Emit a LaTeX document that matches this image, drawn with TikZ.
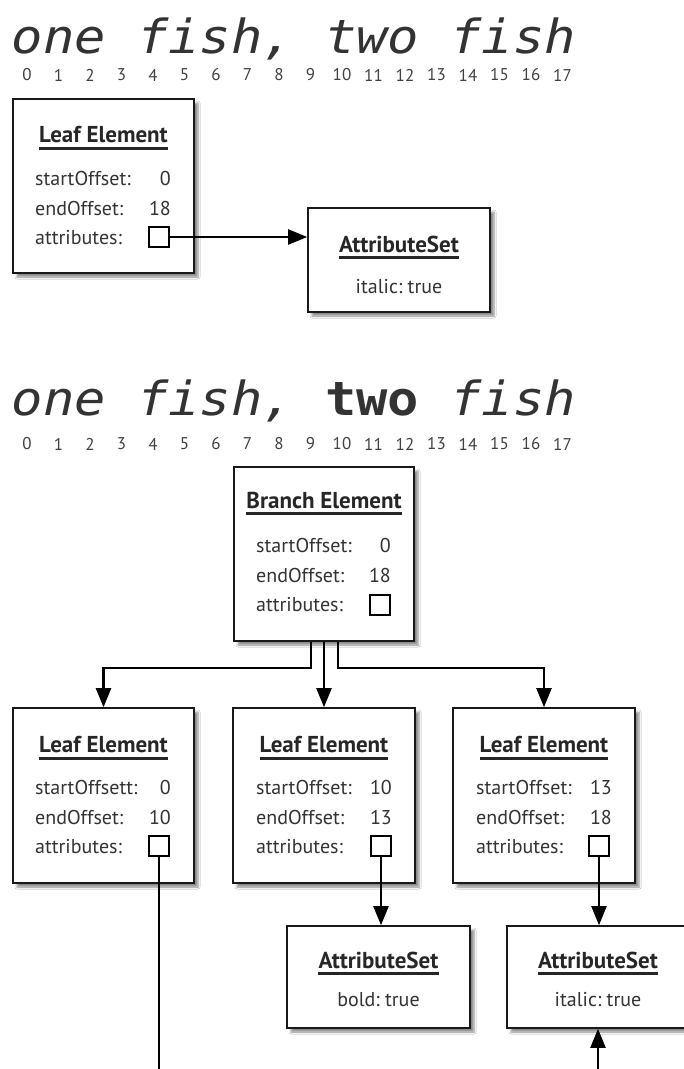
\documentclass[tikz,border=0pt]{standalone}
\usepackage{fontspec}
\setmainfont{PT Sans}
\newfontfamily\fishfont{DejaVu Sans Mono}
\usetikzlibrary{arrows.meta,shadows.blur}

\begin{document}
\frenchspacing
\begin{tikzpicture}[
  x=1pt,y=-1pt,
  box/.style={draw=black!90,line width=1.6pt,fill=white,inner sep=0,
    blur shadow={shadow xshift=4pt,shadow yshift=-4pt,shadow blur steps=6,shadow opacity=45}},
  hd/.style={inner xsep=0,inner ysep=5pt,text=black!85,font=\fontsize{23}{25}\selectfont\bfseries},
  ul/.style={line width=2.6pt,black!85},
  lb/.style={anchor=west,inner sep=0,text=black!80,font=\fontsize{20}{22}\selectfont},
  vl/.style={anchor=east,inner sep=0,text=black!80,font=\fontsize{20}{22}\selectfont},
  tx/.style={inner sep=0,text=black!80,font=\fontsize{20}{22}\selectfont},
  sq/.style={draw,fill=white,line width=2.2pt,minimum size=20pt,inner sep=0},
  dg/.style={inner sep=0,text=black!75,font=\fontsize{17}{17}\selectfont},
  fish/.style={anchor=base west,inner sep=0,text=black!80,font=\fishfont\fontsize{47}{47}\selectfont},
  ln/.style={line width=2.2pt},
  a/.style={ln,-{Triangle[length=19pt,width=15pt]}}
]
\useasboundingbox (0,0) rectangle (684,1069);
\fill[white] (0,0) rectangle (684,1069);

\node[fish] (f1) at (11.5,53) {\scalebox{1.108}[1]{\itshape one fish, two fish}};
\foreach \i in {0,...,17} \node[dg] (d\i) at (27+31.5*\i,75) {\i};

\node[box,minimum width=181,minimum height=174] (lt) at (103.5,186) {};
\node[hd] (lth) at (103.5,135) {Leaf Element};
\draw[ul] (lth.south west) -- (lth.south east);
\node[lb] (lts) at (35,178) {startOffset:};
\node[vl] (ltsv) at (171,178) {0};
\node[lb] (lte) at (35,208) {endOffset:};
\node[vl] (ltev) at (171,208) {18};
\node[lb] (lta) at (35,238) {attributes:};
\node[sq] (ltq) at (159,237) {};

\node[box,minimum width=182,minimum height=104] (at) at (399,260) {};
\node[hd] (ath) at (399,244) {AttributeSet};
\draw[ul] (ath.south west) -- (ath.south east);
\node[tx] (atv) at (399,287) {italic: true};

\draw[a] (ltq.east) -- (ltq.east -| at.west);

\node[fish] (f2) at (11.5,415) {\scalebox{1.108}[1]{{\itshape one fish,\ }{\bfseries two}{\itshape\ fish}}};
\foreach \i in {0,...,17} \node[dg] (e\i) at (27+31.5*\i,444) {\i};

\node[box,minimum width=180,minimum height=174] (br) at (324,554) {};
\node[hd] (brh) at (324,500) {Branch Element};
\draw[ul] (brh.south west) -- (brh.south east);
\node[lb] (brs) at (256,545) {startOffset:};
\node[vl] (brsv) at (391,545) {0};
\node[lb] (bre) at (256,575) {endOffset:};
\node[vl] (brev) at (391,575) {18};
\node[lb] (bra) at (256,605) {attributes:};
\node[sq] (brq) at (380,605) {};

\node[box,minimum width=181,minimum height=175] (l1) at (103.5,795.5) {};
\node[hd] (l1h) at (103.5,745) {Leaf Element};
\draw[ul] (l1h.south west) -- (l1h.south east);
\node[lb] (l1s) at (35,787) {startOffsett:};
\node[vl] (l1sv) at (171,787) {0};
\node[lb] (l1e) at (35,817) {endOffset:};
\node[vl] (l1ev) at (171,817) {10};
\node[lb] (l1a) at (35,847) {attributes:};
\node[sq] (l1q) at (159,846) {};

\node[box,minimum width=182,minimum height=175] (l2) at (324,795.5) {};
\node[hd] (l2h) at (324,745) {Leaf Element};
\draw[ul] (l2h.south west) -- (l2h.south east);
\node[lb] (l2s) at (256,787) {startOffset:};
\node[vl] (l2sv) at (392,787) {10};
\node[lb] (l2e) at (256,817) {endOffset:};
\node[vl] (l2ev) at (392,817) {13};
\node[lb] (l2a) at (256,847) {attributes:};
\node[sq] (l2q) at (381,846) {};

\node[box,minimum width=182,minimum height=175] (l3) at (544,795.5) {};
\node[hd] (l3h) at (544,745) {Leaf Element};
\draw[ul] (l3h.south west) -- (l3h.south east);
\node[lb] (l3s) at (476,787) {startOffset:};
\node[vl] (l3sv) at (612,787) {13};
\node[lb] (l3e) at (476,817) {endOffset:};
\node[vl] (l3ev) at (612,817) {18};
\node[lb] (l3a) at (476,847) {attributes:};
\node[sq] (l3q) at (599,846) {};

\draw[a] ([xshift=-13pt]br.south) -- ++(0,26) -| (l1.north);
\draw[a] (br.south) -- (l2.north);
\draw[a] ([xshift=14pt]br.south) -- ++(0,26) -| (l3.north);

\node[box,minimum width=183,minimum height=102] (as2) at (378.5,977) {};
\node[hd] (as2h) at (378.5,960) {AttributeSet};
\draw[ul] (as2h.south west) -- (as2h.south east);
\node[tx] (as2v) at (378.5,1000) {bold: true};

\node[box,minimum width=182,minimum height=102] (as3) at (598,977) {};
\node[hd] (as3h) at (598,960) {AttributeSet};
\draw[ul] (as3h.south west) -- (as3h.south east);
\node[tx] (as3v) at (598,1000) {italic: true};

\coordinate (o1) at (159,1080);
\coordinate (i3) at (598,1080);
\draw[ln] (l1q.south) -- (l1q.south |- o1);
\draw[a] (l2q.south) -- (l2q.south |- as2.north);
\draw[a] (l3q.south) -- (l3q.south |- as3.north);
\draw[a] (i3) -- (i3 |- as3.south);
\end{tikzpicture}
\end{document}
